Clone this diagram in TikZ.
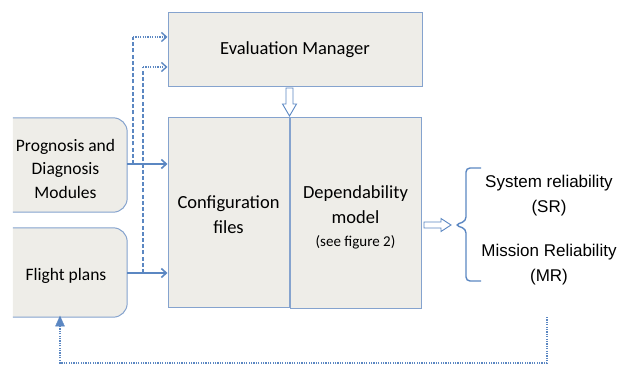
\documentclass[tikz,border=0pt]{standalone}
\usepackage{fontspec}
\setmainfont{Carlito}
\newfontfamily\arialf{Liberation Sans}
\usetikzlibrary{arrows.meta}
\definecolor{boxfill}{HTML}{EEEDE8}
\definecolor{boxline}{HTML}{85A3CE}
\definecolor{arrblue}{HTML}{5B87C2}
\tikzset{
  box/.style={draw=boxline, fill=boxfill, line width=1pt, inner sep=0pt, align=center, font=\fontsize{18.5}{25}\selectfont},
  plain/.style={draw=none, inner sep=0pt, align=center, font=\fontsize{17.5}{23.5}\selectfont},
  solidarr/.style={draw=arrblue, line width=1.6pt, -{Straight Barb[length=5pt,width=9pt]}},
  dashline/.style={draw=arrblue, line width=1.4pt, dash pattern=on 4pt off 2.2pt},
  dotarr/.style={draw=arrblue, line width=1.4pt, dash pattern=on 1.2pt off 1.2pt, -{Straight Barb[length=5pt,width=9pt]}},
  dotline/.style={draw=arrblue, line width=1.4pt, dash pattern=on 1.2pt off 1.2pt},
  hollow/.style={draw=arrblue, fill=white, line width=0.9pt, line join=miter},
  rtext/.style={inner sep=0pt, align=center, font=\arialf\fontsize{17}{25}\selectfont},
  leftbox/.style={fill=boxfill, draw=boxline, line width=1pt, rounded corners=14pt}
}
\begin{document}
\begin{tikzpicture}[x=1pt,y=-1pt]
\useasboundingbox (0,0) rectangle (618,366);
% boxes
\node[box, minimum width=254pt, minimum height=74pt] (eval) at (295,50) {Evaluation Manager};
\node[box, minimum width=121pt, minimum height=189pt] (conf) at (228.5,212.5) {};
\node[box, minimum width=131pt, minimum height=190pt] (dep) at (355.5,213) {};
\node[inner sep=0pt, align=center, font=\fontsize{18.5}{25}\selectfont] (conft) at (228.5,214.5) {Configuration\\files};
\node[inner sep=0pt, align=center, font=\fontsize{18.5}{24.5}\selectfont] (dept) at (355.5,217.5) {Dependability\\model\\[-1pt]{\fontsize{15}{17}\selectfont (see figure 2)}};
% left rounded boxes (geometry holders)
\node[plain, minimum width=122pt, minimum height=94pt] (pd) at (66,165) {};
\node[plain, minimum width=122pt, minimum height=89pt] (fp) at (66,272.5) {};
\path[leftbox] ([xshift=8pt]pd.north west) -- (pd.north east) -- (pd.south east) -- ([xshift=8pt]pd.south west);
\path[leftbox] ([xshift=8pt]fp.north west) -- (fp.north east) -- (fp.south east) -- ([xshift=8pt]fp.south west);
\node[plain] (pdt) at (65.5,168.5) {Prognosis and\\Diagnosis\\Modules};
\node[plain] (fpt) at (66,276) {Flight plans};
% solid arrows
\draw[solidarr] (pd.east |- 0,164) -- (conf.west |- 0,164);
\draw[solidarr] (fp.east |- 0,273) -- (conf.west |- 0,273);
% dashed routes to evaluation manager
\coordinate (a1) at (133,164);
\coordinate (a2) at (133,37);
\coordinate (b1) at (143,273);
\coordinate (b2) at (143,67);
\draw[dashline] (a1) -- (a2);
\draw[dotarr] (a2) -- (a2 -| eval.west);
\draw[dashline] (b1) -- (b2);
\draw[dotarr] (b2) -- (b2 -| eval.west);
% hollow down arrow
\draw[hollow] (286,88) -- (293,88) -- (293,104) -- (296.5,104) -- (289.5,116) -- (282.5,104) -- (286,104) -- cycle;
% results
\node[rtext] (sr) at (549,195.5) {System reliability\\(SR)};
\node[rtext] (mr) at (549,264.5) {Mission Reliability\\(MR)};
% hollow right arrow
\draw[hollow] (424,222) -- (441,222) -- (441,218.5) -- (451,225) -- (441,231.5) -- (441,228) -- (424,228) -- cycle;
% bracket
\draw[arrblue, line width=1.4pt, rounded corners=4pt] (481,168) -- (466,168) -- (466,221) -- (455,225) -- (466,229) -- (466,281) -- (481,281);
% feedback
\coordinate (f1) at (547,317);
\coordinate (f2) at (547,363);
\draw[dotline] (f1) -- (f2) -| ([xshift=-6pt]fp.south);
\draw[arrblue, fill=arrblue] ([xshift=-6pt,yshift=1pt]fp.south) -- ++(-4.5,10) -- ++(9,0) -- cycle;
\end{tikzpicture}
\end{document}
